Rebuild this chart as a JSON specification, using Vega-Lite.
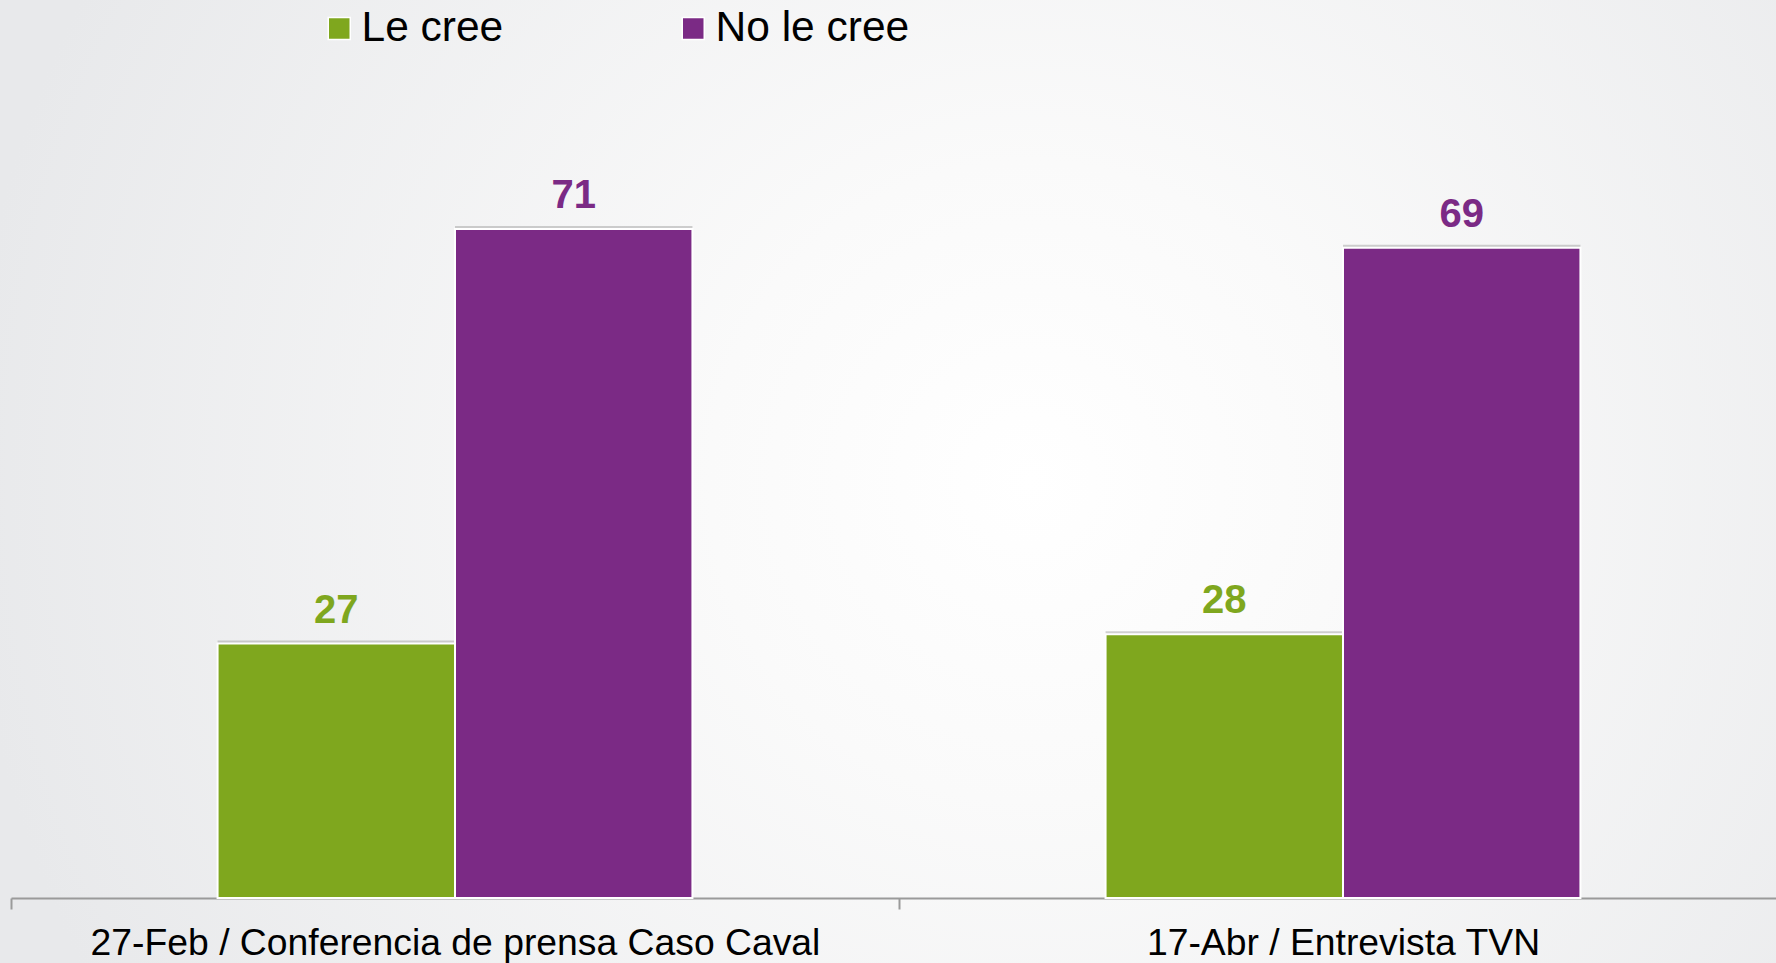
{
  "$schema": "https://vega.github.io/schema/vega-lite/v6.json",
  "width": 1776,
  "height": 963,
  "autosize": {"type": "none"},
  "padding": 0,
  "background": "#e8e9eb",
  "config": {
    "view": {
      "stroke": null,
      "fill": {
        "gradient": "radial",
        "x1": 0.58, "y1": 0.5, "r1": 0,
        "x2": 0.58, "y2": 0.5, "r2": 0.6,
        "stops": [
          {"offset": 0, "color": "#ffffff"},
          {"offset": 0.3, "color": "#fafafa"},
          {"offset": 1, "color": "#e8e9eb"}
        ]
      }
    },
    "font": "Liberation Sans"
  },
  "data": {
    "values": [
      {"evento": "27-Feb / Conferencia de prensa Caso Caval", "serie": "Le cree", "valor": 27},
      {"evento": "27-Feb / Conferencia de prensa Caso Caval", "serie": "No le cree", "valor": 71},
      {"evento": "17-Abr / Entrevista TVN", "serie": "Le cree", "valor": 28},
      {"evento": "17-Abr / Entrevista TVN", "serie": "No le cree", "valor": 69}
    ]
  },
  "encoding": {
    "x": {
      "field": "evento",
      "type": "nominal",
      "sort": null,
      "scale": {"range": [11, 1787], "paddingInner": 0, "paddingOuter": 0},
      "axis": {
        "title": null,
        "labelAngle": 0,
        "labelFont": "Liberation Sans",
        "labelFontSize": 37.3,
        "labelColor": "#000000",
        "labelPadding": 16,
        "labelLimit": 0,
        "tickBand": "extent",
        "tickSize": 11,
        "tickWidth": 2,
        "tickColor": "#9a9a9a",
        "domainColor": "#9a9a9a",
        "domainWidth": 2,
        "offset": -65,
        "grid": false
      }
    },
    "xOffset": {
      "field": "serie",
      "type": "nominal",
      "sort": ["Le cree", "No le cree"],
      "scale": {"paddingInner": 0, "paddingOuter": 0.87}
    },
    "y": {
      "field": "valor",
      "type": "quantitative",
      "scale": {"domain": [-6.9, 95.3], "nice": false, "zero": false},
      "axis": null
    },
    "color": {
      "field": "serie",
      "type": "nominal",
      "sort": ["Le cree", "No le cree"],
      "scale": {"domain": ["Le cree", "No le cree"], "range": ["#7fa71e", "#7b2a85"]},
      "legend": {
        "title": null,
        "orient": "none",
        "direction": "horizontal",
        "legendX": 318,
        "legendY": 7,
        "padding": 0,
        "symbolType": "square",
        "symbolSize": 484,
        "symbolStrokeColor": "#ffffff",
        "symbolStrokeWidth": 1.5,
        "symbolOpacity": 1,
        "labelFont": "Liberation Sans",
        "labelFontSize": 42.5,
        "labelColor": "#000000",
        "labelOffset": 1,
        "columnPadding": 168,
        "labelLimit": 0
      }
    }
  },
  "layer": [
    {
      "mark": {"type": "bar", "color": "#8c8c8c", "opacity": 0.4, "xOffset": 4, "yOffset": -3, "stroke": null},
      "encoding": {"color": {"value": "#8c8c8c"}}
    },
    {
      "mark": {"type": "bar", "stroke": "#ffffff", "strokeWidth": 2, "opacity": 1}
    },
    {
      "mark": {"type": "text", "baseline": "alphabetic", "align": "center", "dy": -21, "fontSize": 40, "fontWeight": "bold", "font": "Liberation Sans"},
      "encoding": {"text": {"field": "valor", "type": "quantitative"}}
    }
  ]
}
